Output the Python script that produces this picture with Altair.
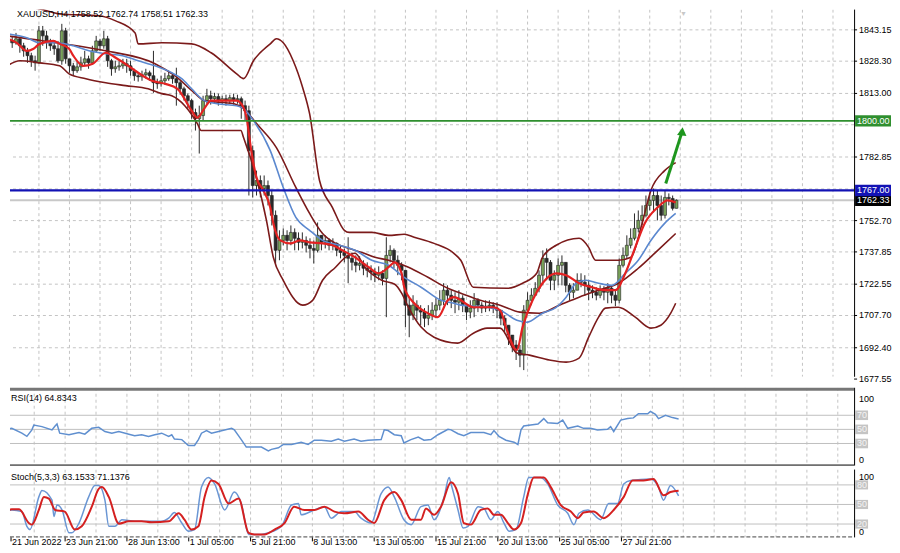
import altair as alt
import pandas as pd

FONT = "Liberation Sans, Arial, sans-serif"
FS = 9
W = 846
H_MAIN, H_RSI, H_ST = 368, 78, 68
XDOM = [1.73, 220.22]

# ---------------- candle data (H4 bars, index 0..175) ----------------
close = [1837.9, 1837.0, 1838.9, 1835.6, 1833.2, 1830.9, 1828.5, 1827.5, 1842.7, 1840.3,
         1837.9, 1835.6, 1834.2, 1828.5, 1842.7, 1829.4, 1826.1, 1823.8, 1825.6, 1827.5,
         1829.4, 1827.5, 1833.2, 1837.9, 1835.6, 1838.9, 1828.5, 1824.7, 1825.6, 1826.1,
         1827.1, 1826.1, 1823.8, 1821.4, 1820.9, 1821.9, 1822.8, 1821.4, 1818.1, 1817.6,
         1819.0, 1820.0, 1821.4, 1820.0, 1818.1, 1815.2, 1811.9, 1809.6, 1803.9, 1801.0,
         1802.5, 1809.6, 1811.9, 1810.5, 1811.5, 1809.6, 1810.5, 1809.6, 1811.0, 1810.0,
         1810.5, 1807.2, 1804.8, 1785.9, 1769.3, 1771.7, 1767.9, 1769.3, 1764.6, 1755.2,
         1738.6, 1743.3, 1745.7, 1743.3, 1747.1, 1744.3, 1742.4, 1743.3, 1741.0, 1739.5,
         1738.6, 1745.7, 1742.4, 1743.3, 1741.0, 1741.9, 1738.6, 1737.6, 1736.2, 1734.8,
         1732.9, 1731.5, 1732.4, 1730.1, 1729.1, 1728.2, 1726.8, 1727.7, 1725.3, 1736.2,
         1738.6, 1733.9, 1731.5, 1729.1, 1712.6, 1707.8, 1712.6, 1710.2, 1709.3, 1706.4,
         1707.8, 1710.2, 1712.6, 1714.9, 1719.7, 1717.3, 1714.9, 1714.0, 1715.9, 1712.6,
         1709.3, 1711.2, 1714.9, 1712.6, 1711.2, 1712.1, 1712.6, 1711.2, 1710.2, 1706.4,
         1703.1, 1698.4, 1693.7, 1691.3, 1688.9, 1710.2, 1714.9, 1717.3, 1720.6, 1726.8,
         1734.8, 1732.9, 1724.4, 1726.8, 1731.5, 1732.9, 1722.0, 1718.7, 1719.7, 1724.4,
         1723.5, 1722.0, 1719.7, 1718.7, 1717.3, 1719.7, 1718.7, 1720.6, 1717.3, 1714.9,
         1731.5, 1736.2, 1741.0, 1744.3, 1749.0, 1752.8, 1755.2, 1759.9, 1762.3, 1764.6,
         1759.9, 1755.2, 1763.7, 1763.2, 1758.5, 1762.33]
high = [1842.7, 1840.3, 1841.7, 1839.8, 1837.0, 1834.6, 1832.3, 1830.9, 1845.0, 1845.0,
        1842.7, 1838.9, 1837.0, 1837.9, 1846.0, 1844.1, 1829.4, 1827.5, 1828.5, 1830.4,
        1833.2, 1830.9, 1835.6, 1840.3, 1838.9, 1842.7, 1840.3, 1829.4, 1828.5, 1828.5,
        1829.4, 1829.4, 1828.5, 1824.7, 1822.8, 1823.8, 1824.7, 1823.8, 1833.2, 1820.0,
        1821.4, 1822.8, 1823.8, 1822.8, 1825.2, 1819.0, 1816.2, 1812.9, 1810.5, 1805.8,
        1807.2, 1811.9, 1815.2, 1814.3, 1813.3, 1812.9, 1811.9, 1812.4, 1812.4, 1812.9,
        1812.4, 1811.5, 1809.6, 1807.2, 1788.3, 1776.4, 1774.1, 1774.1, 1771.7, 1767.0,
        1757.5, 1748.1, 1749.0, 1748.1, 1750.4, 1749.0, 1747.1, 1747.1, 1745.2, 1744.3,
        1743.3, 1751.8, 1745.7, 1745.7, 1744.3, 1744.3, 1742.4, 1741.0, 1739.5, 1744.8,
        1737.6, 1736.2, 1735.8, 1733.9, 1732.9, 1731.5, 1730.1, 1731.0, 1729.1, 1744.8,
        1741.0, 1739.5, 1736.2, 1732.9, 1729.1, 1716.4, 1717.3, 1714.9, 1712.6, 1711.2,
        1712.6, 1714.0, 1715.9, 1719.7, 1723.0, 1722.0, 1719.7, 1718.7, 1719.7, 1717.3,
        1712.6, 1714.9, 1718.3, 1715.9, 1714.0, 1714.9, 1714.9, 1714.0, 1714.0, 1710.2,
        1707.8, 1703.1, 1698.4, 1696.0, 1693.7, 1712.6, 1718.7, 1720.6, 1723.5, 1729.1,
        1738.6, 1739.5, 1734.0, 1729.1, 1734.8, 1736.2, 1732.9, 1723.0, 1723.0, 1727.7,
        1727.7, 1726.8, 1724.4, 1722.0, 1721.1, 1722.0, 1721.6, 1723.0, 1722.0, 1719.7,
        1734.8, 1740.0, 1745.7, 1749.0, 1756.1, 1757.5, 1759.9, 1764.6, 1766.0, 1767.9,
        1767.0, 1764.6, 1767.0, 1765.6, 1764.6, 1762.74]
low = [1835.6, 1834.6, 1836.1, 1832.3, 1830.4, 1827.5, 1825.6, 1823.8, 1827.1, 1835.6,
       1834.2, 1833.2, 1831.3, 1827.5, 1826.6, 1827.1, 1822.8, 1821.4, 1822.8, 1823.8,
       1826.1, 1824.7, 1826.6, 1832.3, 1833.2, 1834.2, 1825.6, 1821.4, 1822.8, 1823.8,
       1824.7, 1822.8, 1821.4, 1819.0, 1818.6, 1819.0, 1820.0, 1819.0, 1813.3, 1815.2,
       1816.2, 1817.1, 1819.0, 1817.6, 1807.2, 1812.4, 1809.6, 1805.8, 1801.0, 1795.4,
       1784.5, 1800.1, 1808.1, 1807.7, 1808.6, 1807.2, 1807.7, 1807.2, 1808.1, 1807.7,
       1808.1, 1801.0, 1800.1, 1764.6, 1763.7, 1764.6, 1763.7, 1764.6, 1759.9, 1750.4,
       1732.4, 1733.9, 1741.0, 1738.6, 1741.0, 1738.6, 1738.6, 1739.5, 1737.6, 1734.8,
       1732.4, 1737.6, 1738.6, 1739.5, 1738.6, 1738.6, 1735.8, 1734.8, 1732.9, 1723.0,
       1729.1, 1728.2, 1729.1, 1726.8, 1725.8, 1724.4, 1723.5, 1724.4, 1722.0, 1706.9,
       1732.9, 1730.1, 1726.8, 1724.4, 1702.2, 1697.4, 1705.5, 1705.5, 1703.1, 1702.2,
       1703.1, 1705.5, 1706.4, 1710.2, 1712.6, 1712.6, 1711.2, 1708.8, 1710.2, 1709.3,
       1705.5, 1706.4, 1706.9, 1709.3, 1708.8, 1709.3, 1709.7, 1708.8, 1706.4, 1703.1,
       1699.3, 1693.7, 1690.3, 1686.6, 1683.2, 1681.8, 1709.3, 1712.6, 1717.3, 1718.7,
       1722.0, 1724.4, 1719.7, 1719.7, 1722.0, 1722.0, 1718.7, 1714.9, 1715.9, 1719.7,
       1721.1, 1717.3, 1714.9, 1715.9, 1714.9, 1715.9, 1714.9, 1713.5, 1713.5, 1712.1,
       1713.5, 1730.5, 1735.0, 1739.5, 1743.3, 1747.1, 1750.4, 1754.2, 1757.5, 1756.6,
       1752.8, 1752.8, 1753.7, 1759.9, 1757.5, 1758.51]
first_open = 1839.0
last_open = 1758.52

# ---------------- indicator lines: (bar, value) ----------------
bb_upper = [(-0.3, 1854.5), (8.2, 1853.1), (13.4, 1850.7), (23.7, 1849.8), (28.1, 1847.4), (33.2, 1841.7),
            (34.0, 1836.5), (40.2, 1837.0), (48.0, 1836.5), (53.1, 1832.3), (59.8, 1822.3), (61.6, 1820.0),
            (64.2, 1828.5), (68.6, 1836.5), (70.2, 1838.9), (72.0, 1837.0), (74.6, 1828.5), (77.1, 1815.7),
            (78.9, 1803.4), (81.5, 1771.7), (84.9, 1758.9), (88.0, 1748.1), (89.3, 1747.1), (95.2, 1747.1),
            (99.6, 1745.7), (103.7, 1746.2), (106.3, 1744.8), (111.5, 1741.9), (116.7, 1737.2), (118.5, 1733.9),
            (121.8, 1721.1), (130.6, 1720.6), (134.7, 1723.0), (138.4, 1727.7), (139.9, 1735.3), (143.5, 1741.0),
            (149.5, 1744.3), (152.0, 1740.0), (153.8, 1733.9), (159.8, 1733.9), (163.1, 1735.3), (165.8, 1750.0),
            (168.3, 1767.0), (171.9, 1776.4), (174.8, 1780.2)]
bb_lower = [(-0.3, 1826.1), (3.0, 1828.5), (8.2, 1827.5), (13.4, 1826.1), (15.9, 1822.3), (20.3, 1820.0),
            (25.5, 1818.1), (30.7, 1816.7), (36.6, 1815.2), (40.2, 1812.9), (42.8, 1811.9), (46.2, 1807.2),
            (49.5, 1798.7), (50.5, 1795.4), (60.9, 1795.4), (61.6, 1792.1), (67.6, 1752.8), (69.4, 1735.3),
            (72.0, 1724.4), (77.1, 1712.6), (79.7, 1714.9), (82.3, 1724.4), (85.7, 1730.6), (88.3, 1735.3),
            (90.8, 1737.2), (93.4, 1730.6), (97.8, 1724.4), (101.2, 1722.5), (103.0, 1718.3), (104.8, 1711.6),
            (108.1, 1702.2), (111.5, 1697.4), (117.7, 1694.6), (121.8, 1699.3), (125.4, 1701.7), (128.8, 1701.7),
            (133.2, 1689.9), (136.5, 1688.9), (141.7, 1686.6), (146.1, 1685.6), (149.5, 1687.5), (152.0, 1697.4),
            (154.6, 1706.9), (156.4, 1711.2), (159.8, 1711.6), (164.2, 1706.9), (168.3, 1701.7), (170.9, 1703.1),
            (173.5, 1708.8), (174.8, 1713.5)]
bb_mid = [(-0.3, 1840.3), (12.6, 1837.0), (25.5, 1833.2), (38.4, 1827.1), (43.6, 1821.4), (48.7, 1813.3),
          (51.3, 1809.6), (59.1, 1808.1), (61.6, 1805.8), (65.0, 1798.7), (70.2, 1787.3), (75.3, 1768.4),
          (78.9, 1756.1), (82.3, 1746.6), (85.7, 1741.9), (89.3, 1739.5), (92.6, 1737.6), (96.0, 1735.3),
          (99.6, 1733.9), (104.8, 1730.6), (109.9, 1725.8), (115.1, 1720.6), (118.5, 1718.3), (123.6, 1714.9),
          (128.8, 1712.6), (134.0, 1709.3), (139.1, 1708.8), (144.3, 1712.6), (149.5, 1716.4), (154.6, 1719.7),
          (159.8, 1723.0), (165.0, 1730.1), (170.1, 1738.6), (174.8, 1746.6)]
ma_blue = [(-0.3, 1841.3), (4.8, 1839.4), (8.2, 1837.0), (12.6, 1837.0), (17.0, 1835.6), (21.1, 1833.2),
           (25.5, 1831.8), (29.9, 1830.9), (34.0, 1828.5), (38.4, 1826.1), (42.8, 1822.8), (45.4, 1820.0),
           (48.0, 1815.2), (51.3, 1809.6), (54.7, 1808.1), (59.8, 1807.2), (61.6, 1805.8), (64.2, 1800.1),
           (68.6, 1785.9), (72.0, 1768.4), (75.3, 1754.2), (78.9, 1748.1), (82.3, 1743.3), (86.7, 1741.0),
           (90.8, 1738.6), (95.2, 1733.9), (99.6, 1731.5), (103.7, 1725.8), (108.1, 1721.1), (113.3, 1714.9),
           (116.7, 1713.5), (118.5, 1712.6), (125.4, 1711.6), (128.8, 1710.2), (133.2, 1705.5), (135.8, 1704.5),
           (139.9, 1708.8), (143.5, 1711.6), (146.1, 1716.4), (148.7, 1723.0), (151.3, 1724.4), (154.6, 1723.0),
           (158.0, 1722.0), (161.6, 1727.7), (165.0, 1733.9), (168.3, 1743.3), (171.9, 1751.4), (174.8, 1756.1)]
ma_red = [(-0.3, 1838.9), (2.2, 1837.0), (4.8, 1833.2), (6.6, 1834.2), (8.2, 1836.5), (11.8, 1837.9),
          (13.4, 1836.5), (15.9, 1834.2), (17.0, 1830.9), (19.6, 1826.1), (22.1, 1827.1), (25.5, 1832.3),
          (28.1, 1829.9), (31.4, 1826.1), (34.0, 1822.8), (37.6, 1819.0), (41.0, 1817.6), (44.3, 1815.2),
          (48.0, 1804.8), (49.5, 1801.5), (51.3, 1805.8), (53.1, 1809.6), (56.5, 1809.6), (59.8, 1809.6),
          (61.6, 1806.3), (62.4, 1801.5), (63.5, 1787.3), (65.0, 1773.1), (66.8, 1767.0), (68.6, 1758.9),
          (69.4, 1751.4), (71.2, 1743.3), (73.8, 1741.9), (76.4, 1743.3), (78.9, 1742.4), (82.3, 1741.9),
          (84.9, 1741.0), (87.5, 1738.6), (90.8, 1735.3), (94.4, 1730.6), (97.0, 1727.7), (99.6, 1730.6),
          (101.2, 1732.9), (103.0, 1727.7), (103.7, 1721.1), (106.3, 1713.5), (109.9, 1708.8), (112.5, 1706.9),
          (115.1, 1714.9), (116.7, 1716.4), (121.8, 1711.6), (127.0, 1711.6), (128.8, 1710.2), (130.6, 1700.7),
          (133.2, 1691.3), (134.7, 1702.2), (137.3, 1714.9), (139.9, 1723.0), (143.5, 1727.7), (146.1, 1726.8),
          (149.5, 1723.0), (152.8, 1721.1), (156.4, 1719.7), (159.0, 1719.7), (161.6, 1727.7), (164.2, 1740.0),
          (166.7, 1751.4), (170.1, 1759.0), (172.7, 1762.3), (174.8, 1761.3)]

rsi = [(-0.3, 49.3), (2.2, 51.5), (4.8, 44.6), (6.1, 40.1), (7.4, 49.3), (7.9, 56.2), (10.0, 53.9), (12.6, 49.3),
       (13.4, 54.8), (13.9, 57.6), (14.6, 44.6), (17.0, 42.4), (19.6, 45.6), (21.1, 43.2), (22.9, 51.5),
       (24.7, 52.9), (26.3, 47.0), (28.1, 44.6), (29.9, 47.0), (32.5, 43.2), (34.0, 41.0), (35.8, 42.4),
       (37.6, 40.1), (39.2, 42.4), (41.0, 44.6), (42.8, 40.1), (43.6, 42.4), (44.3, 36.3), (46.2, 35.5),
       (47.9, 27.2), (49.5, 27.2), (50.5, 35.5), (51.3, 44.6), (52.6, 48.3), (53.9, 44.6), (55.7, 47.0),
       (59.1, 51.5), (59.8, 49.3), (61.6, 35.5), (62.9, 24.9), (65.0, 24.9), (66.8, 24.9), (68.6, 19.4),
       (69.4, 21.7), (71.2, 23.9), (72.5, 28.6), (74.6, 28.6), (77.1, 31.8), (78.9, 28.6), (80.5, 34.6),
       (82.3, 34.6), (84.9, 33.2), (86.7, 36.3), (88.3, 33.2), (90.8, 36.3), (92.6, 33.2), (94.4, 34.6),
       (97.8, 35.5), (98.6, 49.3), (99.6, 48.3), (101.2, 42.4), (103.0, 41.0), (103.7, 30.8), (105.5, 35.5),
       (107.4, 39.1), (108.9, 34.6), (110.7, 35.5), (112.5, 42.4), (115.1, 50.1), (115.9, 49.3), (117.7, 43.8),
       (119.2, 41.0), (121.0, 45.6), (124.4, 45.6), (126.2, 42.4), (127.0, 48.3), (128.3, 40.1), (130.1, 34.6),
       (132.2, 31.8), (133.2, 28.6), (134.0, 49.3), (134.7, 54.8), (136.5, 56.2), (138.4, 57.6), (139.9, 65.3),
       (140.9, 59.4), (143.5, 58.4), (144.8, 63.1), (146.1, 51.5), (148.7, 54.8), (150.2, 51.5), (152.0, 51.5),
       (153.8, 49.3), (156.4, 50.1), (157.2, 53.9), (158.0, 47.0), (159.8, 63.1), (161.6, 65.3), (163.1, 66.3),
       (164.4, 72.2), (166.8, 72.2), (167.5, 75.5), (168.8, 71.4), (169.6, 65.3), (171.4, 70.0), (173.2, 66.7),
       (174.8, 64.8)]

stoch_signal = [(-0.3, 36.5), (2.2, 42.5), (4.1, 42.5), (6.6, 21.5), (7.4, 19.1), (9.2, 41.6), (10.5, 61.6),
                (11.8, 59.0), (13.4, 41.6), (15.9, 39.1), (18.5, 11.6), (20.3, 16.6), (22.9, 46.6), (24.7, 74.0),
                (25.5, 76.6), (27.3, 61.6), (29.9, 20.6), (32.5, 24.1), (35.8, 24.1), (38.4, 22.6), (42.8, 24.1),
                (45.4, 36.5), (46.9, 26.6), (48.7, 11.6), (50.5, 16.6), (52.1, 61.6), (53.9, 86.6), (55.7, 81.5),
                (58.3, 51.5), (60.9, 59.0), (63.5, 6.5), (65.0, 4.1), (67.6, 4.1), (70.2, 11.6), (72.8, 21.5),
                (75.3, 46.6), (77.9, 41.6), (80.5, 41.6), (83.1, 46.6), (85.7, 39.1), (88.3, 36.5), (91.9, 39.1),
                (94.4, 26.6), (96.0, 21.5), (98.6, 56.6), (101.2, 69.1), (103.0, 56.6), (105.6, 26.6),
                (108.1, 26.6), (109.4, 44.0), (111.5, 34.1), (113.3, 46.6), (115.9, 84.0), (117.7, 66.5),
                (119.2, 21.5), (121.0, 19.1), (123.6, 41.6), (125.4, 44.0), (127.0, 34.1), (128.8, 34.1),
                (130.6, 21.5), (132.2, 11.6), (134.0, 21.5), (135.8, 66.5), (137.3, 91.5), (139.9, 91.5),
                (141.7, 76.6), (144.3, 49.1), (146.9, 39.1), (148.7, 29.0), (150.2, 37.6), (152.8, 39.1),
                (155.4, 29.0), (158.0, 41.6), (160.6, 61.6), (162.9, 86.6), (165.7, 86.6), (168.3, 89.0),
                (170.9, 64.1), (172.7, 69.1), (174.8, 71.1)]
stoch_main = [(-0.3, 36.5), (2.2, 41.6), (4.8, 39.1), (6.1, 16.6), (6.9, 11.6), (9.2, 61.6), (10.0, 71.6),
              (12.6, 56.6), (13.1, 31.6), (13.9, 49.1), (15.2, 41.6), (17.0, 6.5), (17.7, 6.5), (19.6, 21.5),
              (22.1, 61.6), (23.7, 79.1), (24.7, 79.1), (26.3, 56.6), (27.3, 16.6), (28.9, 16.6), (30.7, 26.6),
              (34.0, 24.1), (41.0, 24.1), (42.8, 29.0), (44.3, 37.6), (46.2, 21.5), (47.9, 9.1), (49.5, 11.6),
              (51.3, 76.6), (53.1, 91.5), (54.7, 81.5), (57.3, 41.6), (59.8, 69.1), (61.6, 51.5), (63.5, 4.1),
              (66.8, 4.1), (68.6, 6.5), (72.0, 16.6), (74.6, 49.1), (76.4, 51.5), (77.1, 34.1), (80.5, 41.6),
              (83.1, 46.6), (84.9, 29.0), (87.5, 39.1), (90.8, 39.1), (92.6, 29.0), (95.2, 21.5), (97.8, 66.5),
              (99.6, 76.6), (101.2, 61.6), (103.7, 26.6), (105.6, 19.1), (108.1, 46.6), (109.9, 49.1),
              (111.5, 26.6), (114.1, 61.6), (115.4, 91.5), (115.9, 81.5), (117.7, 41.6), (119.0, 14.0),
              (120.3, 16.6), (122.9, 46.6), (124.4, 44.0), (126.2, 26.6), (128.0, 39.1), (129.6, 21.5),
              (130.9, 9.1), (132.7, 11.6), (134.7, 61.6), (136.0, 91.5), (139.1, 91.5), (140.9, 81.5),
              (143.5, 49.1), (146.1, 36.5), (147.7, 19.1), (149.0, 36.5), (151.3, 41.6), (154.6, 26.6),
              (156.7, 51.5), (159.0, 51.5), (160.6, 81.5), (162.4, 86.6), (167.5, 89.0), (169.6, 76.6),
              (170.9, 56.6), (172.7, 79.1), (174.8, 63.2)]

# ---------------- axis / level values ----------------
price_grid = [1843.15, 1828.30, 1813.00, 1798.15, 1782.85, 1767.70, 1752.70, 1737.85, 1722.55, 1707.70,
              1692.40, 1677.55]
price_labels = [1843.15, 1828.30, 1813.00, 1782.85, 1752.70, 1737.85, 1722.55, 1707.70, 1692.40, 1677.55]
grid_bars = [8, 16, 24, 32, 40, 48, 56, 64, 72, 80, 88, 96, 104, 112, 120, 128, 136, 144, 152, 160, 168,
             176, 184, 192, 200, 208, 216]
date_bars = [2, 16, 32, 48, 64, 80, 96, 112, 128, 144, 160]
date_labels = ["21 Jun 2022", "23 Jun 21:00", "28 Jun 13:00", "1 Jul 05:00", "5 Jul 21:00", "8 Jul 13:00",
               "13 Jul 05:00", "15 Jul 21:00", "20 Jul 13:00", "25 Jul 05:00", "27 Jul 21:00"]
level_prices = [1800.00, 1767.00, 1762.33]
level_texts = ["1800.00", "1767.00", "1762.33"]
level_colors = ["#2f8f2f", "#1212b4", "#000000"]
rsi_levels = [70, 50, 30]
stoch_levels = [80, 50, 20]
arrow = {"b0": 172.2, "v0": 1770.3, "b1": 176.5, "v1": 1795.0}
title_main = "XAUUSD,H4  1758.52 1762.74 1758.51 1762.33"
title_rsi = "RSI(14) 64.8343"
title_stoch = "Stoch(5,3,3) 63.1533 71.1376"

# ---------------- build tables ----------------
n = len(close)
opens = [first_open] + close[:-1]
opens[-1] = last_open
candles = pd.DataFrame({"b": list(range(n)), "open": opens, "close": close, "high": high, "low": low})
candles["high"] = candles[["high", "open", "close"]].max(axis=1)
candles["low"] = candles[["low", "open", "close"]].min(axis=1)
candles["bull"] = candles["close"] >= candles["open"]

XS = alt.Scale(domain=XDOM, nice=False, zero=False)
YM = alt.Scale(domain=[1678.64, 1852.75], nice=False, zero=False)
YR = alt.Scale(domain=[-1.3, 109.0], nice=False, zero=False)
YS = alt.Scale(domain=[-0.5, 103.5], nice=False, zero=False)

GRID_COLOR = "#c4c4c4"
ONE = pd.DataFrame({"a": [0]})


def xq(field="b"):
    return alt.X(f"{field}:Q", scale=XS, axis=None)


def yq(field, ys):
    return alt.Y(f"{field}:Q", scale=ys, axis=None)


def pdf(pairs):
    return pd.DataFrame(pairs, columns=["b", "v"])


def line(pairs, color, width, ys, interp="monotone"):
    return alt.Chart(pdf(pairs)).mark_line(color=color, strokeWidth=width, interpolate=interp,
                                           clip=True).encode(x=xq(), y=yq("v", ys))


def vgrid():
    return alt.Chart(pd.DataFrame({"b": grid_bars})).mark_rule(
        color=GRID_COLOR, strokeDash=[3, 3], strokeWidth=1, clip=True).encode(x=xq())


def right_axis(h):
    return alt.Chart(ONE).mark_rule(color="#000000", strokeWidth=1).encode(
        x=alt.value(W + 0.5), y=alt.value(0), y2=alt.value(h))


def price_axis(vals, ys, fmt):
    df = pd.DataFrame({"v": vals})
    ticks = alt.Chart(df).mark_rule(color="#000000").encode(
        x=alt.value(W), x2=alt.value(W + 3), y=yq("v", ys))
    labels = alt.Chart(df).mark_text(align="left", baseline="middle", font=FONT, fontSize=FS,
                                     color="#000000").encode(
        x=alt.value(W + 5), y=yq("v", ys), text=alt.Text("v:Q", format=fmt))
    return ticks + labels


def edge_labels(ys):
    top = alt.Chart(pd.DataFrame({"v": [100]})).mark_text(
        align="left", baseline="top", font=FONT, fontSize=FS, color="#000000", dy=1).encode(
        x=alt.value(W + 5), y=yq("v", ys), text="v:N")
    bot = alt.Chart(pd.DataFrame({"v": [0]})).mark_text(
        align="left", baseline="bottom", font=FONT, fontSize=FS, color="#000000").encode(
        x=alt.value(W + 5), y=yq("v", ys), text="v:N")
    return top + bot


def label_boxes(vals, texts, colors, half, ys, x0, x1, tcolor):
    df = pd.DataFrame({"v": vals, "t": texts, "c": colors})
    df["lo"] = df["v"] - half
    df["hi"] = df["v"] + half
    rect = alt.Chart(df).mark_rect().encode(
        x=alt.value(x0), x2=alt.value(x1), y=yq("lo", ys), y2="hi:Q",
        color=alt.Color("c:N", scale=None))
    txt = alt.Chart(df).mark_text(align="left", baseline="middle", font=FONT, fontSize=FS,
                                  color=tcolor).encode(
        x=alt.value(x0 + 2), y=yq("v", ys), text="t:N")
    return rect + txt


def title_text(t, x, y):
    return alt.Chart(pd.DataFrame({"t": [t]})).mark_text(
        align="left", baseline="top", font=FONT, fontSize=FS, color="#000000").encode(
        x=alt.value(x), y=alt.value(y), text="t:N")


# ---------------- main panel ----------------
hgrid = alt.Chart(pd.DataFrame({"v": price_grid})).mark_rule(
    color=GRID_COLOR, strokeDash=[3, 3], strokeWidth=1, clip=True).encode(y=yq("v", YM))

bid = alt.Chart(pd.DataFrame({"v": [1762.33]})).mark_rule(color="#c8c8c8", strokeWidth=2).encode(
    y=yq("v", YM))

wicks = alt.Chart(candles).mark_rule(color="#2a2a2a", strokeWidth=1, clip=True).encode(
    x=xq(), y=yq("low", YM), y2="high:Q")
bodies = alt.Chart(candles).mark_bar(size=3, stroke="#222222", strokeWidth=0.6, orient="vertical",
                                     clip=True).encode(
    x=xq(), y=yq("open", YM), y2="close:Q",
    color=alt.condition("datum.bull", alt.value("#79a25a"), alt.value("#2a2a2a")))

hlines = alt.Chart(pd.DataFrame({"v": [1800.0, 1767.0], "c": ["#2f8f2f", "#1212b4"],
                                 "w": [1.6, 2.2]})).mark_rule().encode(
    y=yq("v", YM), color=alt.Color("c:N", scale=None),
    strokeWidth=alt.StrokeWidth("w:Q", scale=None))

adf = pd.DataFrame([arrow])
arrow_line = alt.Chart(adf).mark_rule(color="#1e961e", strokeWidth=3).encode(
    x=alt.X("b0:Q", scale=XS, axis=None), x2="b1:Q", y=yq("v0", YM), y2="v1:Q")
arrow_head = alt.Chart(adf).mark_point(shape="triangle-up", filled=True, color="#1e961e", size=90,
                                       angle=6, opacity=1).encode(
    x=alt.X("b1:Q", scale=XS, axis=None), y=yq("v1", YM))

shift_mark = alt.Chart(pd.DataFrame({"t": ["\u25bc"]})).mark_text(
    fontSize=7, color="#c8c8c8", baseline="top").encode(x=alt.value(675), y=alt.value(0), text="t:N")

main = alt.layer(
    hgrid, vgrid(), bid, wicks, bodies,
    line(bb_upper, "#7b1a1a", 1.6, YM), line(bb_lower, "#7b1a1a", 1.6, YM), line(bb_mid, "#7b1a1a", 1.6, YM),
    line(ma_blue, "#5b88cf", 1.6, YM), line(ma_red, "#e32222", 2.2, YM),
    hlines, arrow_line, arrow_head,
    right_axis(H_MAIN), price_axis(price_labels, YM, ".2f"),
    label_boxes(level_prices[::-1], level_texts[::-1], level_colors[::-1], 2.7, YM, W + 1, W + 37, "#ffffff"),
    title_text(title_main, 7, 0), shift_mark,
).properties(width=W, height=H_MAIN)

# ---------------- RSI panel ----------------
separator = alt.Chart(ONE).mark_rule(color="#777777", strokeWidth=3).encode(
    x=alt.value(0), x2=alt.value(W), y=alt.value(1.5))
rsi_bottom = alt.Chart(ONE).mark_rule(color="#000000", strokeWidth=1).encode(
    x=alt.value(0), x2=alt.value(W), y=alt.value(H_RSI - 0.5))
rsi_lv = alt.Chart(pd.DataFrame({"v": rsi_levels})).mark_rule(color="#c0c0c0", strokeWidth=1).encode(
    y=yq("v", YR))
rsi_panel = alt.layer(
    vgrid(), rsi_lv, line(rsi, "#5f8fcf", 1.5, YR, "linear"),
    right_axis(H_RSI), edge_labels(YR),
    label_boxes(rsi_levels, [str(v) for v in rsi_levels], ["#c4c4c4"] * 3, 6.8, YR, W + 1, W + 14, "#f4f4f4"),
    title_text(title_rsi, 1, 6), separator, rsi_bottom,
).properties(width=W, height=H_RSI)

# ---------------- Stochastic panel ----------------
st_lv = alt.Chart(pd.DataFrame({"v": stoch_levels})).mark_rule(color="#c0c0c0", strokeWidth=1).encode(
    y=yq("v", YS))
st_bottom = alt.Chart(ONE).mark_rule(color="#444444", strokeWidth=1, strokeDash=[4, 2]).encode(
    x=alt.value(0), x2=alt.value(W), y=alt.value(H_ST - 0.5))
ddf = pd.DataFrame({"b": date_bars, "t": date_labels})
date_ticks = alt.Chart(ddf).mark_rule(color="#000000").encode(
    x=xq(), y=alt.value(H_ST), y2=alt.value(H_ST + 4))
date_text = alt.Chart(ddf).mark_text(align="left", baseline="top", font=FONT, fontSize=FS,
                                     color="#000000", dx=1).encode(
    x=xq(), y=alt.value(H_ST + 1), text="t:N")
stoch_panel = alt.layer(
    vgrid(), st_lv,
    line(stoch_main, "#6a96d4", 1.5, YS), line(stoch_signal, "#d42020", 2.0, YS),
    right_axis(H_ST), edge_labels(YS),
    label_boxes(stoch_levels, [str(v) for v in stoch_levels], ["#c4c4c4"] * 3, 7.0, YS, W + 1, W + 14, "#f4f4f4"),
    title_text(title_stoch, 1, 3), st_bottom, date_ticks, date_text,
).properties(width=W, height=H_ST)

chart = alt.vconcat(main, rsi_panel, stoch_panel, spacing=2).properties(
    padding=0,
    background="#ffffff",
).configure_view(stroke=None)

chart.save("out.html", embed_options={"renderer": "svg", "actions": False})
